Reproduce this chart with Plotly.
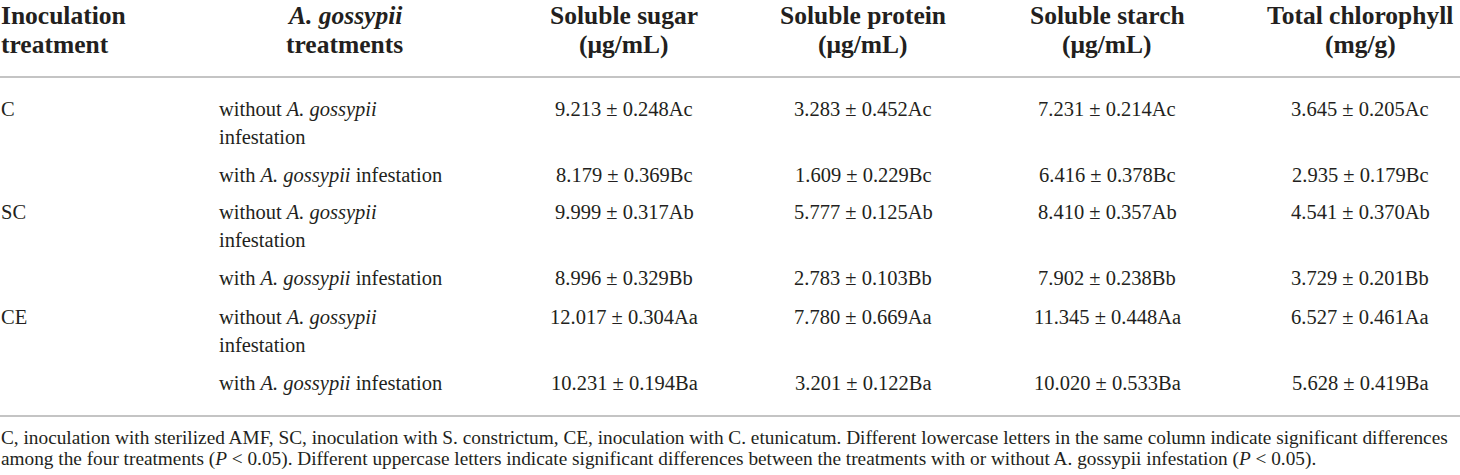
import plotly.graph_objects as go

# table content
headers = [
    "Inoculation<br>treatment",
    "<i>A. gossypii</i><br>treatments",
    "Soluble sugar<br>(μg/mL)",
    "Soluble protein<br>(μg/mL)",
    "Soluble starch<br>(μg/mL)",
    "Total chlorophyll<br>(mg/g)",
]
inoculation = ["C", "SC", "CE"]
aphid_treatment = [
    "without <i>A. gossypii</i><br>infestation",
    "with <i>A. gossypii</i> infestation",
]
soluble_sugar = ["9.213 ± 0.248Ac", "8.179 ± 0.369Bc", "9.999 ± 0.317Ab",
                 "8.996 ± 0.329Bb", "12.017 ± 0.304Aa", "10.231 ± 0.194Ba"]
soluble_protein = ["3.283 ± 0.452Ac", "1.609 ± 0.229Bc", "5.777 ± 0.125Ab",
                   "2.783 ± 0.103Bb", "7.780 ± 0.669Aa", "3.201 ± 0.122Ba"]
soluble_starch = ["7.231 ± 0.214Ac", "6.416 ± 0.378Bc", "8.410 ± 0.357Ab",
                  "7.902 ± 0.238Bb", "11.345 ± 0.448Aa", "10.020 ± 0.533Ba"]
total_chlorophyll = ["3.645 ± 0.205Ac", "2.935 ± 0.179Bc", "4.541 ± 0.370Ab",
                     "3.729 ± 0.201Bb", "6.527 ± 0.461Aa", "5.628 ± 0.419Ba"]
footnote = [
    "C, inoculation with sterilized AMF, SC, inoculation with S. constrictum, CE, inoculation with C. etunicatum. "
    "Different lowercase letters in the same column indicate significant differences",
    "among the four treatments (<i>P</i> < 0.05). Different uppercase letters indicate significant differences "
    "between the treatments with or without A. gossypii infestation (<i>P</i> < 0.05).",
]

# layout constants (pixels)
W, H = 1460, 475
col_x = [0, 218, 624, 863, 1107, 1360]
header_x = [0, 344, 624, 863, 1107, 1360]
header_y = [15, 44]
group_y = [109, 212, 317]
row_step = 66
line_h = 28
rule_y = [77, 416]
foot_y = [437, 459]
ink = "#231f20"
serif = "Liberation Serif, Times New Roman, serif"

fig = go.Figure()
annotations = []


def add_text(x, y, text, size, anchor="center", bold=False):
    annotations.append(dict(
        x=x, y=y, xref="x", yref="y", text=f"<b>{text}</b>" if bold else text,
        showarrow=False, xanchor=anchor, yanchor="middle", borderpad=0,
        font=dict(family=serif, size=size, color=ink),
    ))


# header cells
for i, h in enumerate(headers):
    for j, line in enumerate(h.split("<br>")):
        add_text(header_x[i], header_y[j], line, 25.5, "left" if i == 0 else "center", bold=True)

# body
value_cols = [soluble_sugar, soluble_protein, soluble_starch, total_chlorophyll]
for g, name in enumerate(inoculation):
    add_text(col_x[0], group_y[g], name, 20.5, "left")
    for r, treat in enumerate(aphid_treatment):
        y0 = group_y[g] + r * row_step
        for j, line in enumerate(treat.split("<br>")):
            add_text(col_x[1], y0 + j * line_h, line, 20.5, "left")
        for c, col in enumerate(value_cols):
            add_text(col_x[2 + c], y0, col[g * 2 + r], 20.5)

# footnote
for j, line in enumerate(footnote):
    add_text(0, foot_y[j], line, 19.3, "left")

for y in rule_y:
    fig.add_shape(type="line", xref="x", yref="y", x0=0, x1=W, y0=y, y1=y,
                  line=dict(color="#c4c4c4", width=2))

fig.update_layout(
    width=W, height=H,
    margin=dict(l=0, r=0, t=0, b=0),
    paper_bgcolor="white", plot_bgcolor="white",
    annotations=annotations,
    showlegend=False,
    hovermode=False,
    xaxis=dict(range=[0, W], visible=False, fixedrange=True),
    yaxis=dict(range=[H, 0], visible=False, fixedrange=True),
)

# drop the default page margin so the table sits at the window edge
fig.write_html("out.html", config={"displayModeBar": False},
               post_script="document.body.style.margin='0';")
